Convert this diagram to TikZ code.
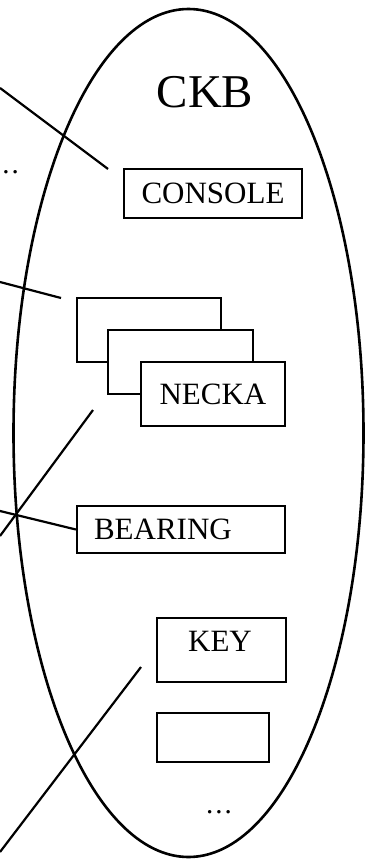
\documentclass[tikz,border=0pt]{standalone}
\usepackage{fontspec}
\setmainfont{Liberation Serif}
\begin{document}
\begin{tikzpicture}[x=1pt,y=-1pt,
  box/.style={draw, line width=2.2pt, fill=white, inner sep=0pt, font=\fontsize{31}{36}\selectfont},
  link/.style={line width=2.2pt},
  dots/.style={inner sep=0pt, anchor=base, font=\fontsize{29}{34}\selectfont},
]
\useasboundingbox (0,0) rectangle (368,864);

% the CKB region
\draw[line width=2.6pt] (188.5,433) ellipse [x radius=175, y radius=424];
\node[font=\fontsize{47}{52}\selectfont, inner sep=0pt] (ckb) at (205,92.5) {CKB};

% members
\node[box, minimum width=178, minimum height=49] (console) at (213,193.5) {CONSOLE};

\node[box, minimum width=144, minimum height=64] (neckc) at (149,330) {};
\node[box, minimum width=145, minimum height=64] (neckb) at (180.5,362) {};
\node[box, minimum width=144, minimum height=64] (necka) at (213,394) {NECKA};

\node[box, minimum width=208, minimum height=47, inner xsep=17pt,
      text width=174pt, align=left] (bearing) at (181,529.5) {BEARING};

\node[box, minimum width=129, minimum height=64] (key) at (221.5,650) {};
\node[inner sep=0pt, font=\fontsize{31}{36}\selectfont] (keylabel) at (220,641) {KEY};

\node[box, minimum width=112, minimum height=49] (blank) at (213,737.5) {};

\node[dots] (moreleft) at (6,173.5) {.\kern2pt.\kern2pt.};
\node[dots] (morebottom) at (219,813.5) {.\kern2pt.\kern2pt.};

% connectors coming in from the left
\coordinate (c1a) at (0,88);    \coordinate (c1b) at (108,169);
\coordinate (c2a) at (0,282);   \coordinate (c2b) at (61,298);
\coordinate (c3a) at (0,536);   \coordinate (c3b) at (93,410);
\coordinate (c4a) at (0,511);
\coordinate (c5a) at (0,852);   \coordinate (c5b) at (141,667);

\draw[link] (c1a) -- (c1b);
\draw[link] (c2a) -- (c2b);
\draw[link] (c3a) -- (c3b);
\draw[link] (c4a) -- (bearing.west);
\draw[link] (c5a) -- (c5b);
\end{tikzpicture}
\end{document}
